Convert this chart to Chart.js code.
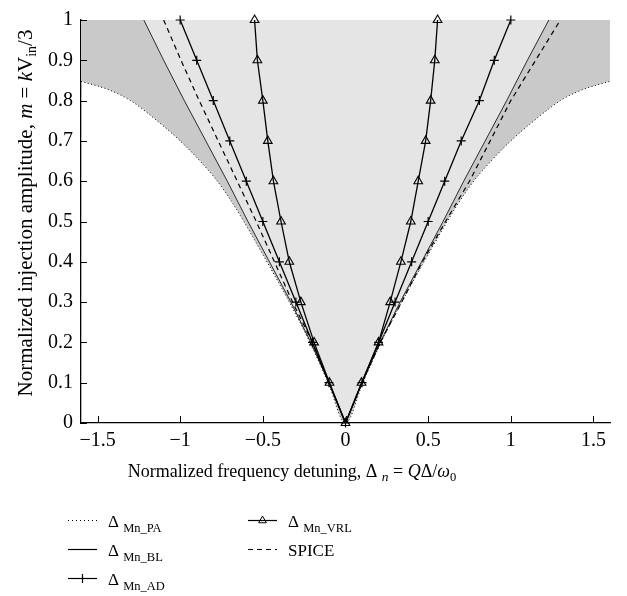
<!DOCTYPE html>
<html>
<head>
<meta charset="utf-8">
<script src="https://cdn.jsdelivr.net/npm/chart.js@4.4.1/dist/chart.umd.min.js"></script>
<style>
  html, body { margin: 0; padding: 0; background: #fff; }
  #wrap { width: 627px; height: 596px; }
</style>
</head>
<body>
<div id="wrap"><canvas id="detuneChart" width="627" height="596"></canvas></div>
<script>
// injection amplitude m, read every 0.1
const mGrid = [0, 0.1, 0.2, 0.3, 0.4, 0.5, 0.6, 0.7, 0.8, 0.9, 1];

// detuning values (left branch / right branch)
const blLeft = [0, -0.1, -0.21, -0.33, -0.46, -0.59, -0.715, -0.845, -0.975, -1.1, -1.22];
const blRight = [0, 0.1, 0.21, 0.33, 0.46, 0.59, 0.715, 0.845, 0.975, 1.1, 1.23];
const adLeft = [0, -0.1, -0.2, -0.3, -0.4, -0.5, -0.6, -0.7, -0.8, -0.9, -1.0];
const adRight = [0, 0.1, 0.2, 0.3, 0.4, 0.5, 0.6, 0.7, 0.81, 0.9, 1.0];
const vrlLeft = [0, -0.097, -0.19, -0.27, -0.34, -0.39, -0.436, -0.47, -0.5, -0.533, -0.55];
const vrlRight = [0, 0.097, 0.2, 0.27, 0.335, 0.395, 0.44, 0.485, 0.515, 0.54, 0.557];
const spiceLeft = [0, -0.1, -0.2, -0.32, -0.43, -0.54, -0.655, -0.77, -0.885, -0.995, -1.1];
const spiceRight = [0, 0.1, 0.21, 0.34, 0.465, 0.605, 0.75, 0.875, 1.0, 1.15, 1.3];

// PA boundary is read on its own m grid (it leaves the plot at m ~ 0.85)
const paM = [0, 0.1, 0.2, 0.3, 0.4, 0.5, 0.55, 0.6, 0.65, 0.7, 0.75, 0.8, 0.825, 0.848];
const paLeft = [0, -0.105, -0.215, -0.34, -0.475, -0.615, -0.69, -0.775, -0.88, -1.0, -1.14, -1.3, -1.42, -1.6];
const paRight = [0, 0.105, 0.215, 0.34, 0.475, 0.615, 0.69, 0.775, 0.88, 1.0, 1.14, 1.3, 1.42, 1.6];

const xTicks = [-1.5, -1, -0.5, 0, 0.5, 1, 1.5];
const yTicks = [0, 0.1, 0.2, 0.3, 0.4, 0.5, 0.6, 0.7, 0.8, 0.9, 1];
const legendNames = ['Mn_PA', 'Mn_BL', 'Mn_AD', 'Mn_VRL', 'SPICE'];

// left branch from the top down to the origin, then the right branch back up
function vPoints(left, right, m) {
    const pts = [];
    for (let i = m.length - 1; i >= 0; i--) pts.push({ x: left[i], y: m[i] });
    for (let i = 1; i < m.length; i++) pts.push({ x: right[i], y: m[i] });
    return pts;
}

const serif = '"Liberation Serif", "Times New Roman", serif';
function fnt(size, italic) {
    return (italic ? 'italic ' : '') + size + 'px ' + serif;
}

function drawParts(ctx, parts, x, y, align) {
    let total = 0;
    parts.forEach(p => { ctx.font = p.font; total += ctx.measureText(p.t).width; });
    let cx = align === 'center' ? x - total / 2 : x;
    ctx.textAlign = 'left';
    ctx.textBaseline = 'alphabetic';
    parts.forEach(p => {
        ctx.font = p.font;
        ctx.fillText(p.t, cx, y + (p.dy || 0));
        cx += ctx.measureText(p.t).width;
    });
}

function drawTriangle(ctx, x, y, r) {
    ctx.beginPath();
    ctx.moveTo(x, y - r);
    ctx.lineTo(x + r * 0.866, y + r * 0.5);
    ctx.lineTo(x - r * 0.866, y + r * 0.5);
    ctx.closePath();
    ctx.stroke();
}

const extras = {
    id: 'extras',
    afterDraw(chart) {
        const ctx = chart.ctx;
        const xs = chart.scales.x, ys = chart.scales.y, area = chart.chartArea;
        ctx.save();
        ctx.strokeStyle = '#000';
        ctx.fillStyle = '#000';
        ctx.lineWidth = 1;

        // inward tick marks
        xs.ticks.forEach(t => {
            const px = Math.round(xs.getPixelForValue(t.value)) + 0.5;
            ctx.beginPath();
            ctx.moveTo(px, area.bottom);
            ctx.lineTo(px, area.bottom - 7);
            ctx.stroke();
        });
        ys.ticks.forEach(t => {
            const py = Math.round(ys.getPixelForValue(t.value)) + 0.5;
            ctx.beginPath();
            ctx.moveTo(area.left, py);
            ctx.lineTo(area.left + 6, py);
            ctx.stroke();
        });

        // axis titles
        drawParts(ctx, [
            { t: 'Normalized frequency detuning, ', font: fnt(18) },
            { t: 'Δ ', font: fnt(18) },
            { t: 'n', font: fnt(13.5, true), dy: 4 },
            { t: ' = ', font: fnt(18) },
            { t: 'Q', font: fnt(18, true) },
            { t: 'Δ/', font: fnt(18) },
            { t: 'ω', font: fnt(18, true) },
            { t: '0', font: fnt(12.5), dy: 4 }
        ], 292, 477, 'center');

        ctx.save();
        ctx.translate(32, 213);
        ctx.rotate(-Math.PI / 2);
        drawParts(ctx, [
            { t: 'Normalized injection amplitude, ', font: fnt(21) },
            { t: 'm', font: fnt(21, true) },
            { t: ' = ', font: fnt(21) },
            { t: 'k', font: fnt(21, true) },
            { t: 'V', font: fnt(21) },
            { t: 'in', font: fnt(14), dy: 4 },
            { t: '/3', font: fnt(21) }
        ], 0, 0, 'center');
        ctx.restore();

        // legend
        const rows = [
            { x: 68, y: 527, kind: 'dot', name: legendNames[0] },
            { x: 68, y: 556, kind: 'solid', name: legendNames[1] },
            { x: 68, y: 585, kind: 'plus', name: legendNames[2] },
            { x: 248, y: 527, kind: 'tri', name: legendNames[3] },
            { x: 248, y: 556, kind: 'dash', name: legendNames[4] }
        ];
        rows.forEach(r => {
            const ly = r.y - 6.5;
            ctx.lineWidth = r.kind === 'dot' ? 1 : 1.2;
            ctx.setLineDash(r.kind === 'dot' ? [1, 3] : r.kind === 'dash' ? [5, 4] : []);
            ctx.beginPath();
            ctx.moveTo(r.x, ly);
            ctx.lineTo(r.x + 29, ly);
            ctx.stroke();
            ctx.setLineDash([]);
            const cx = r.x + 14.5;
            if (r.kind === 'plus') {
                ctx.beginPath();
                ctx.moveTo(cx, ly - 4.5);
                ctx.lineTo(cx, ly + 4.5);
                ctx.stroke();
            }
            if (r.kind === 'tri') {
                ctx.lineWidth = 1;
                drawTriangle(ctx, cx, ly, 4.5);
            }
            if (r.name === 'SPICE') {
                drawParts(ctx, [{ t: 'SPICE', font: fnt(17) }], r.x + 40, r.y, 'left');
            } else {
                drawParts(ctx, [
                    { t: 'Δ ', font: fnt(17) },
                    { t: r.name, font: fnt(12.5), dy: 5 }
                ], r.x + 40, r.y, 'left');
            }
        });
        ctx.restore();
    }
};

Chart.defaults.font.family = serif;
Chart.defaults.font.size = 20;
Chart.defaults.color = '#000';

function fmtTick(v) {
    const s = String(Math.round(v * 10) / 10);
    return v < 0 ? '\u2212' + s.slice(1) : s;
}

const ctx = document.getElementById('detuneChart').getContext('2d');
const detuneChart = new Chart(ctx, {
    type: 'scatter',
    data: {
        datasets: [
            {
                label: 'Δ Mn_AD',
                data: vPoints(adLeft, adRight, mGrid),
                showLine: true,
                borderColor: '#000',
                borderWidth: 1.3,
                pointStyle: 'cross',
                pointRadius: 4.5,
                pointBorderColor: '#000',
                pointBorderWidth: 1.2,
                clip: false,
                order: 1
            },
            {
                label: 'Δ Mn_VRL',
                data: vPoints(vrlLeft, vrlRight, mGrid),
                showLine: true,
                borderColor: '#000',
                borderWidth: 1.3,
                pointStyle: 'triangle',
                pointRadius: 5,
                pointBorderColor: '#000',
                pointBackgroundColor: 'rgba(0,0,0,0)',
                pointBorderWidth: 1.1,
                clip: false,
                order: 2
            },
            {
                label: 'SPICE',
                data: vPoints(spiceLeft, spiceRight, mGrid),
                showLine: true,
                borderColor: '#000',
                borderWidth: 1.2,
                borderDash: [5, 4],
                pointRadius: 0,
                order: 3
            },
            {
                label: 'Δ Mn_BL',
                data: vPoints(blLeft, blRight, mGrid),
                showLine: true,
                borderColor: '#000',
                borderWidth: 0.8,
                pointRadius: 0,
                fill: 'end',
                backgroundColor: '#e5e5e5',
                order: 4
            },
            {
                label: 'Δ Mn_PA',
                data: vPoints(paLeft, paRight, paM),
                showLine: true,
                borderColor: '#000',
                borderWidth: 1,
                borderDash: [1, 2.5],
                cubicInterpolationMode: 'monotone',
                pointRadius: 0,
                fill: 'end',
                backgroundColor: '#c9c9c9',
                order: 5
            }
        ]
    },
    options: {
        responsive: false,
        animation: false,
        events: [],
        layout: { padding: { left: 0, right: 17, top: 6, bottom: 0 } },
        plugins: {
            legend: { display: false },
            tooltip: { enabled: false },
            filler: { drawTime: 'beforeDatasetsDraw' }
        },
        scales: {
            x: {
                type: 'linear',
                min: -1.6,
                max: 1.6,
                afterBuildTicks: s => { s.ticks = xTicks.map(v => ({ value: v })); },
                afterFit: s => { s.height = 173; },
                grid: { display: true, drawOnChartArea: false, drawTicks: false },
                border: { display: true, color: '#000', width: 1.3 },
                ticks: { padding: 6, callback: v => fmtTick(v), maxRotation: 0, autoSkip: false }
            },
            y: {
                type: 'linear',
                min: 0,
                max: 1,
                afterBuildTicks: s => { s.ticks = yTicks.map(v => ({ value: v })); },
                afterFit: s => { s.width = 81; },
                grid: { display: true, drawOnChartArea: false, drawTicks: false },
                border: { display: true, color: '#000', width: 1.3 },
                ticks: { padding: 8, callback: v => fmtTick(v), autoSkip: false }
            }
        }
    },
    plugins: [extras]
});
</script>
</body>
</html>
